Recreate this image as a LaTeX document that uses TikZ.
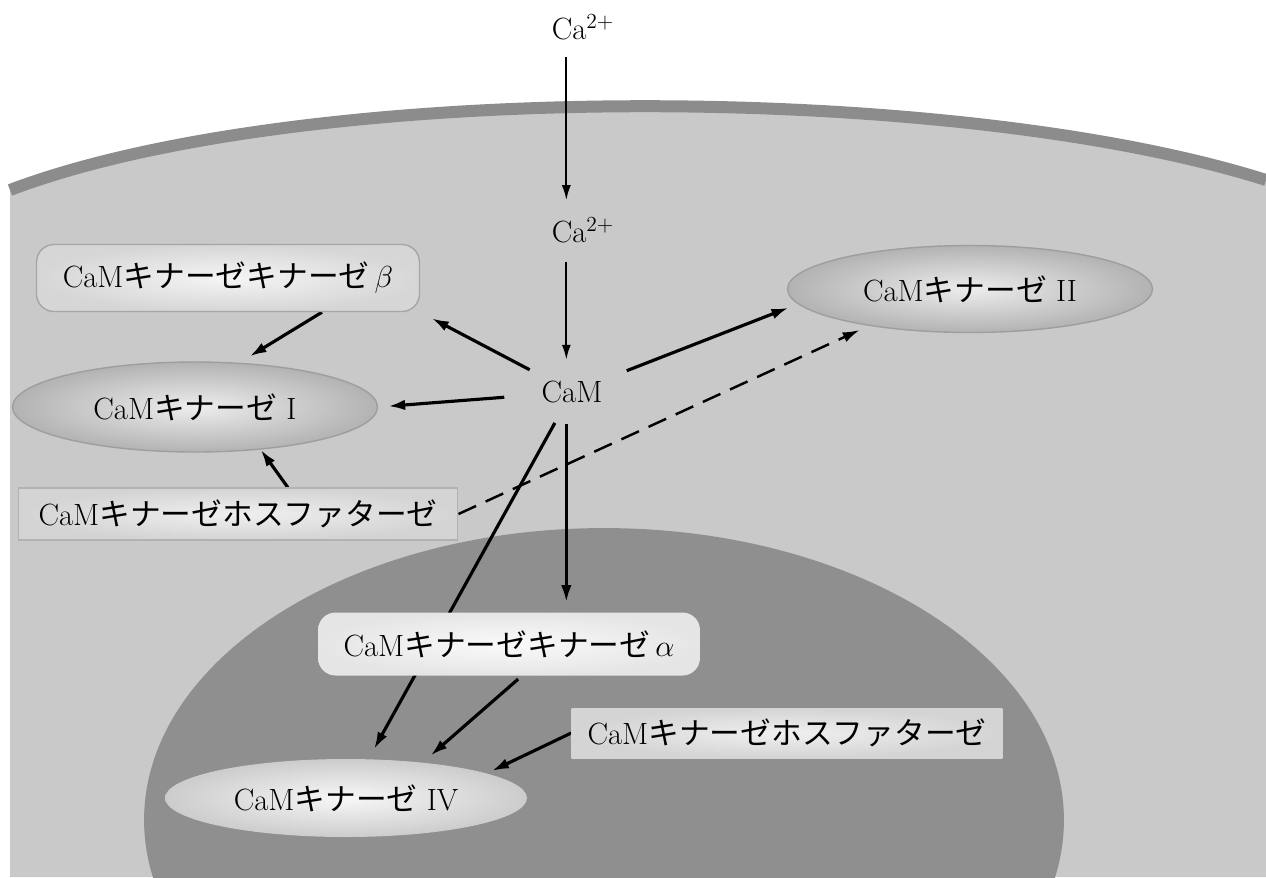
\documentclass[tikz,border=0pt]{standalone}
\usepackage{fontspec}
\newfontfamily\jp{Noto Sans CJK JP}
\usetikzlibrary{positioning,calc,arrows.meta,shapes.geometric}
\definecolor{cellgray}{HTML}{C9C9C9}
\definecolor{membranegray}{HTML}{8C8C8C}
\definecolor{nucleusgray}{HTML}{8F8F8F}
\pgfdeclarelayer{cellbg}
\pgfdeclarelayer{links}
\pgfsetlayers{cellbg,links,main}
\tikzset{
  lab/.style={font=\fontsize{17.5}{21}\selectfont},
  ion/.style={lab,inner sep=2pt},
  membrane/.style={draw=membranegray,line width=0.24cm},
  % the kinases are shaded ellipses, the kinase kinases rounded boxes
  kinase/.style={ellipse,lab,inner sep=0,draw=black!38,line width=0.8pt,
                 shade,inner color=black!7,outer color=black!30},
  kinkin/.style={rectangle,rounded corners=0.35cm,lab,inner sep=0,
                 shade,inner color=black!4,outer color=black!16},
  phos/.style={rectangle,lab,inner sep=0,shade,inner color=black!6,outer color=black!17},
  arr/.style={-{Latex[length=3.4mm,width=2.1mm]},line width=1.8pt},
  ionarr/.style={-{Latex[length=3mm,width=1.8mm]},line width=1.2pt},
  darr/.style={arr,line width=1.4pt,dash pattern=on 11pt off 6pt},
}
\begin{document}
\begin{tikzpicture}[x=0.02cm,y=-0.02cm]
  \useasboundingbox (0,0) rectangle (1266,877);
  % the cell with its membrane, and the nucleus
  \begin{pgfonlayer}{cellbg}
    \clip (0,0) rectangle (1266,877);
    \fill[cellgray] (10,190) .. controls (300,80) and (950,80) .. (1266,180) -- (1266,877) -- (10,877) -- cycle;
    \draw[membrane] (10,190) .. controls (300,80) and (950,80) .. (1266,180);
    \fill[nucleusgray] (604,820) ellipse [x radius=9.2cm,y radius=5.84cm];
  \end{pgfonlayer}
  \node[ion] (ca1) at (583,27) {Ca\textsuperscript{2+}};
  \node[ion] (ca2) at (583,230) {Ca\textsuperscript{2+}};
  \node[lab,ellipse,minimum width=2.32cm,minimum height=1.28cm,inner sep=0] (cam) at (572,392) {CaM};
  \node[kinkin,draw=black!35,line width=0.8pt,minimum width=7.66cm,minimum height=1.34cm] (kkb) at (228,278) {CaM{\jp キナーゼキナーゼ}\,$\beta$};
  \node[kinase,minimum width=7.3cm,minimum height=1.8cm] (k1) at (195,407) {CaM{\jp キナーゼ}\ I};
  \node[kinase,minimum width=7.3cm,minimum height=1.74cm] (k2) at (970,289) {CaM{\jp キナーゼ}\ II};
  \node[phos,draw=black!30,line width=0.6pt,minimum width=8.8cm,minimum height=1.04cm] (ph1) at (238,514) {CaM{\jp キナーゼホスファターゼ}};
  \node[kinkin,inner color=black!2,outer color=black!10,minimum width=7.64cm,minimum height=1.26cm] (kka) at (509,644) {CaM{\jp キナーゼキナーゼ}\,$\alpha$};
  \node[phos,minimum width=8.62cm,minimum height=1.0cm] (ph2) at (787,733) {CaM{\jp キナーゼホスファターゼ}};
  \node[kinase,draw=none,inner color=black!3,outer color=black!20,minimum width=7.24cm,minimum height=1.56cm] (k4) at (346,798) {CaM{\jp キナーゼ}\ IV};
  % signalling arrows, under the boxes
  \begin{pgfonlayer}{links}
    \draw[ionarr,shorten <=0.26cm,shorten >=0.26cm] (ca1.south -| cam.100) -- (ca2.north -| cam.100);
    \draw[ionarr,shorten <=0.3cm] (ca2.south -| cam.100) -- (cam.100);
    \draw[arr,shorten >=0.26cm] (cam) -- (kkb.south east);
    \draw[arr,shorten <=0.2cm,shorten >=0.2cm] (cam) -- (k1.east);
    \draw[arr,shorten <=0.15cm,shorten >=0.2cm] (cam) -- (k2.185);
    \draw[arr,shorten >=0.2cm] (cam.-100) -- (cam.-100 |- kka.north);
    \draw[arr,shorten >=0.22cm] (cam) -- (k4.60);
    \draw[arr,shorten >=0.24cm] (kkb.-20) -- (k1.45);
    \draw[arr] (ph1.28) -- (k1.-33);
    \draw[darr,shorten >=0.2cm] (ph1.east) -- (k2.-160);
    \draw[arr,shorten <=0.1cm,shorten >=0.2cm] (kka.-68) -- (k4.25);
    \draw[arr,shorten >=0.1cm] (ph2.west) -- (k4.10);
  \end{pgfonlayer}
\end{tikzpicture}
\end{document}
